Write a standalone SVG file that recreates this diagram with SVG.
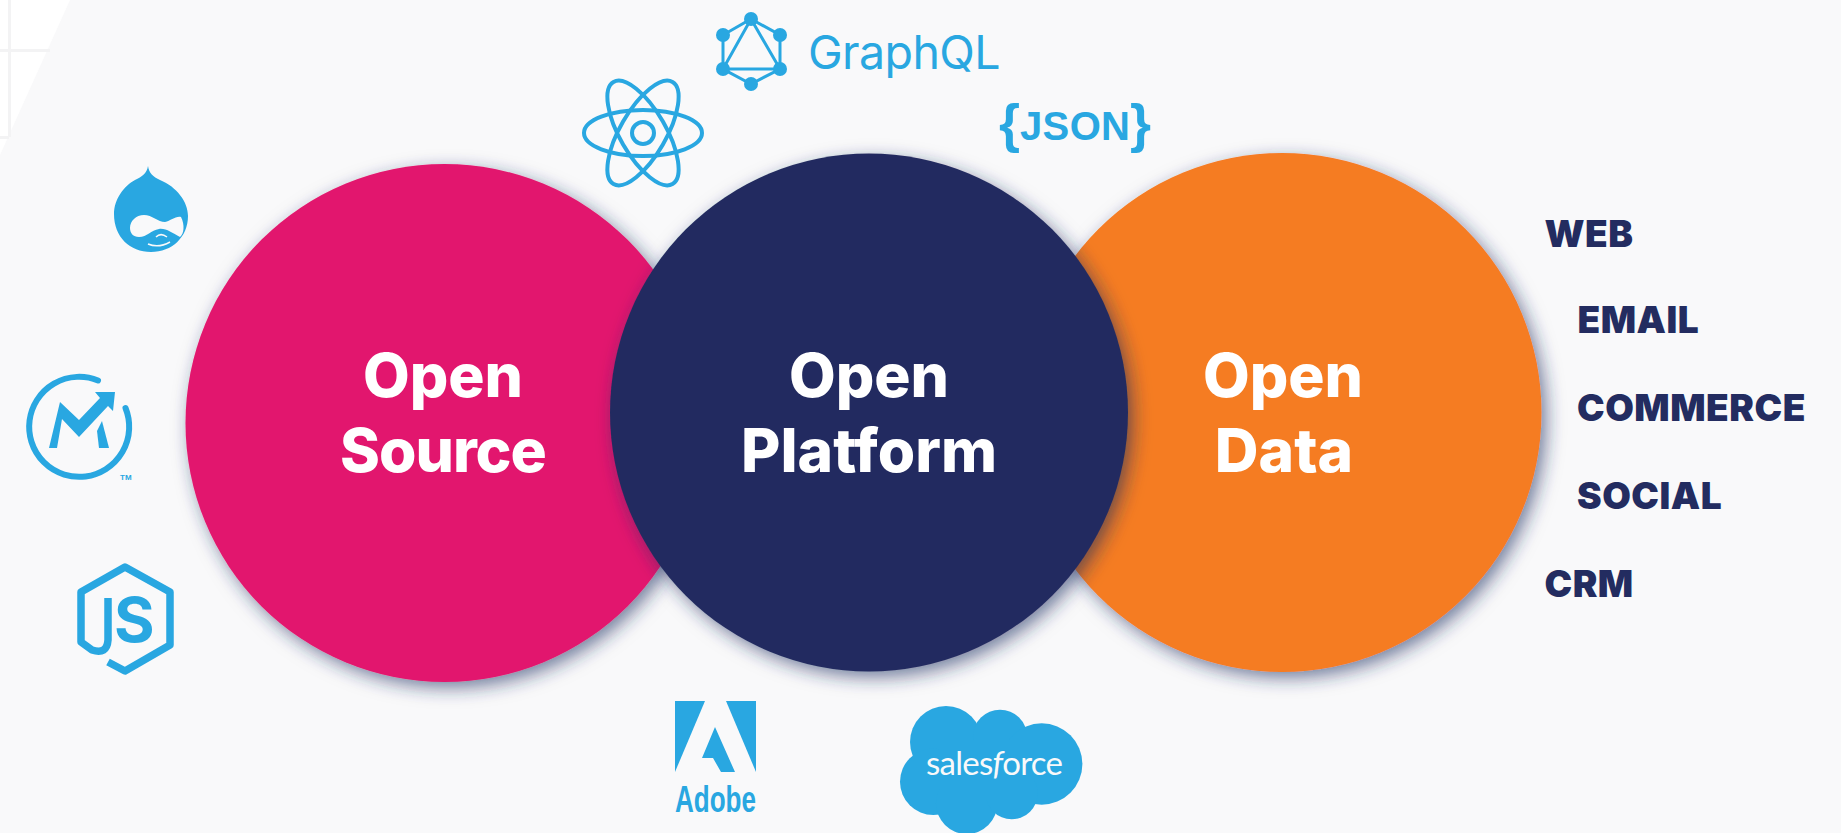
<svg xmlns="http://www.w3.org/2000/svg" width="1841" height="833" viewBox="0 0 1841 833">
<defs>
<filter id="sh" x="-20%" y="-20%" width="140%" height="140%"><feDropShadow dx="5" dy="6" stdDeviation="9" flood-color="#232c60" flood-opacity="0.6"/></filter>
</defs>
<style>
.t{font-family:"Inter","Liberation Sans",sans-serif;font-weight:800;font-size:60.500px;fill:#fff;text-anchor:middle}
.l{font-family:"Inter","Liberation Sans",sans-serif;font-weight:900;font-size:37px;letter-spacing:.5px;fill:#232c60}
.b{fill:#29a7e1}
.s{fill:none;stroke:#29a7e1}
</style>
<rect width="1841" height="833" fill="#f9f9fa"/>
<g id="corner">
<polygon points="0,0 70,0 0,155" fill="#fff"/>
<path d="M9.500,0V137M0,50.500H50M0,137.500H9" stroke="#f3f3f4" stroke-width="3" fill="none"/>
</g>
<g id="connectors"></g>
<g id="open-source"><circle cx="444.500" cy="423" r="259" fill="#e2146e" filter="url(#sh)"/><text class="t" x="443" y="397">Open</text><text class="t" x="443" y="472" letter-spacing="-1">Source</text></g>
<g id="open-data"><circle cx="1282" cy="412.500" r="259.500" fill="#f57b20" filter="url(#sh)"/><text class="t" x="1283" y="397">Open</text><text class="t" x="1284" y="472">Data</text></g>
<g id="open-platform"><circle cx="869" cy="412.500" r="259" fill="#232c60" filter="url(#sh)"/><text class="t" x="869" y="397">Open</text><text class="t" x="869" y="472">Platform</text></g>
<g id="drupal"><path class="b" d="M148,166C149,173 153,177 160,180C177,187 188,202 188,216C188,237 172,252 151,252C130,252 114,237 114,214C114,199 124,186 135,180C142,177 147,173 148,166Z"/><path d="M130,228C130,221 136,215 144,215C152,215 158,222 165,222C171,221 175,216 181,217C185,225 184,234 180,237C172,233 166,228 159,229C151,230 147,237 139,237C133,237 130,233 130,228Z" fill="#f9f9fa"/><path d="M148,244C155,247 163,246 170,242M156,237C159,234 163,234 167,237" fill="none" stroke="#f9f9fa" stroke-width="1.500"/></g>
<g id="mautic"><path class="s" stroke-width="6" stroke-linecap="round" d="M98,380.500A50,50 0 1 0 125.500,408"/><polygon class="b" points="49,448 60,402 79,420 100,398 95,392 115,392 113,411 108,406 79,437 62,419 57,448"/><polygon class="b" points="97,431 102,421 109,448 99,448"/><text x="120" y="480" font-family="Liberation Sans,sans-serif" font-weight="700" font-size="8" fill="#29a7e1">TM</text></g>
<g id="nodejs"><path class="s" stroke-width="7.500" stroke-linejoin="round" d="M108,662L125,671L170,645V592L125,567L81,592V642L92,650Q107,655 108,640V598"/><text x="114" y="642" font-family="Inter,sans-serif" font-weight="700" font-size="62" fill="#29a7e1">S</text></g>
<g id="react"><g class="s" stroke-width="4"><ellipse cx="643" cy="133" rx="59" ry="23"/><ellipse cx="643" cy="133" rx="59" ry="23" transform="rotate(60 643 133)"/><ellipse cx="643" cy="133" rx="59" ry="23" transform="rotate(-60 643 133)"/><circle cx="643" cy="133" r="11"/></g></g>
<g id="graphql"><g class="s" stroke-width="3"><polygon points="751,19 780,35 780,69 751,84 723,69 723,35"/><polygon points="751,19 780,69 723,69"/></g><g class="b"><circle cx="751" cy="19" r="7"/><circle cx="780" cy="35" r="7"/><circle cx="780" cy="69" r="7"/><circle cx="751" cy="84" r="7"/><circle cx="723" cy="69" r="7"/><circle cx="723" cy="35" r="7"/></g><text x="808" y="68.500" font-family="Inter,sans-serif" font-weight="400" font-size="46.500" letter-spacing="-.6" fill="#29a7e1">GraphQL</text></g>
<g id="json"><text y="140" font-family="Liberation Sans,sans-serif" font-weight="700" fill="#29a7e1"><tspan font-size="54" x="999" dy="2">{</tspan><tspan font-size="40" x="1020" dy="-2" textLength="110">JSON</tspan><tspan font-size="54" x="1130" dy="2">}</tspan></text></g>
<g id="adobe"><polygon class="b" points="675,701 705,701 675,772"/><polygon class="b" points="726,701 756,701 756,772"/><polygon class="b" points="715,727 735,772 721,772 713,758 702,758"/><text x="675" y="812" font-family="Liberation Sans,sans-serif" font-weight="700" font-size="37" fill="#29a7e1" textLength="81" lengthAdjust="spacingAndGlyphs">Adobe</text></g>
<g id="salesforce"><g class="b"><circle cx="946" cy="742" r="36"/><circle cx="1000" cy="736.700" r="27"/><circle cx="1041.700" cy="764" r="40.700"/><circle cx="933.300" cy="781.700" r="33.300"/><circle cx="966.700" cy="803.300" r="30.700"/><circle cx="1011.700" cy="793.300" r="26"/><rect x="940" y="740" width="90" height="60"/></g><text x="926" y="775" font-family="Lato,sans-serif" font-weight="400" font-size="33" fill="#f9f9fa" textLength="137">sales<tspan font-style="italic">f</tspan>orce</text></g>
<g id="channels"><text class="l" x="1544.500" y="247">WEB</text><text class="l" x="1577.500" y="333">EMAIL</text><text class="l" x="1577" y="421">COMMERCE</text><text class="l" x="1577" y="509">SOCIAL</text><text class="l" x="1544.500" y="597">CRM</text></g>
</svg>
